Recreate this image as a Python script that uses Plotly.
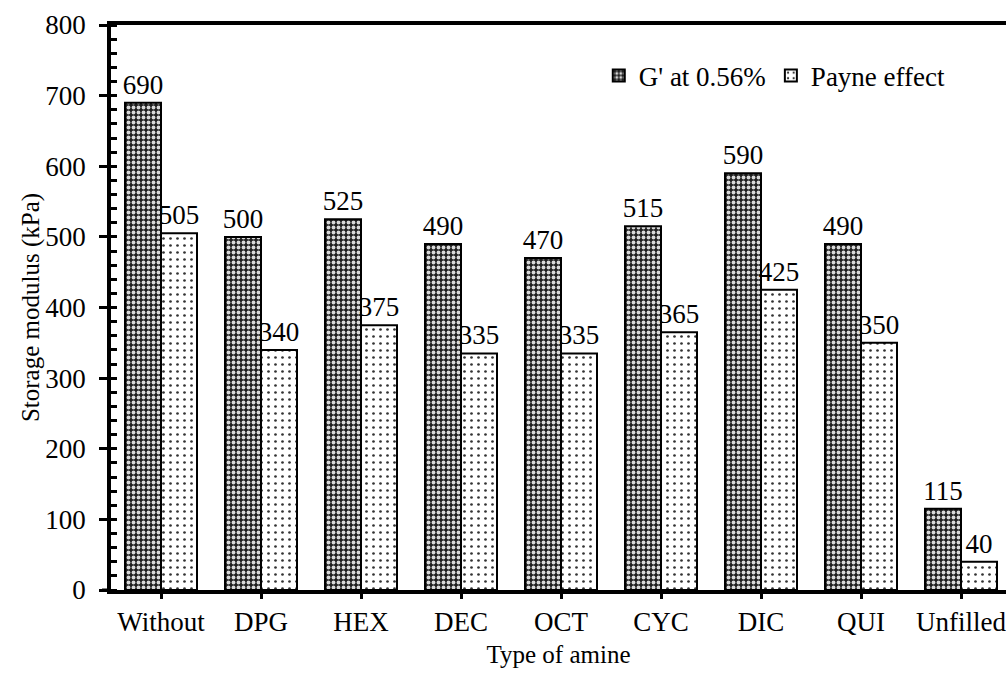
import plotly.graph_objects as go

categories = ["Without", "DPG", "HEX", "DEC", "OCT", "CYC", "DIC", "QUI", "Unfilled"]
g_prime = [690, 500, 525, 490, 470, 515, 590, 490, 115]
payne = [505, 340, 375, 335, 335, 365, 425, 350, 40]

FONT = "Liberation Serif"
FS = 27

fig = go.Figure()
fig.add_trace(go.Bar(
    x=categories, y=g_prime, name="G' at 0.56%",
    text=[str(v) for v in g_prime], textposition="outside", constraintext="none",
    textfont=dict(family=FONT, size=FS, color="black"),
    cliponaxis=False,
    marker=dict(color="#1e1e1e", line=dict(color="black", width=2),
                pattern=dict(shape=".", fgcolor="#d8d8d8", bgcolor="#1e1e1e",
                             size=5, solidity=0.45, fillmode="replace")),
))
fig.add_trace(go.Bar(
    x=categories, y=payne, name="Payne effect",
    text=[str(v) for v in payne], textposition="outside", constraintext="none",
    textfont=dict(family=FONT, size=FS, color="black"),
    cliponaxis=False,
    marker=dict(color="white", line=dict(color="black", width=2),
                pattern=dict(shape=".", fgcolor="#333333", bgcolor="white",
                             size=7, solidity=0.12, fillmode="replace")),
))

fig.update_layout(
    width=1006, height=674,
    margin=dict(l=111, r=0, t=25, b=84),
    paper_bgcolor="white", plot_bgcolor="white",
    barmode="group", bargap=0.28, bargroupgap=0.0,
    font=dict(family=FONT, size=FS, color="black"),
    legend=dict(orientation="h", x=0.545, y=0.91, xanchor="left", yanchor="middle",
                font=dict(family=FONT, size=FS), bgcolor="rgba(0,0,0,0)",
                itemwidth=30, tracegroupgap=0),
    showlegend=True,
    shapes=[dict(type="line", xref="paper", yref="y", x0=-0.01, x1=0, y0=0, y1=0,
                 line=dict(color="black", width=3))],
)
fig.update_xaxes(
    range=[-0.5, 8.45],
    showline=True, linecolor="black", linewidth=3.5, mirror=True,
    ticks="outside", ticklen=5, tickwidth=3, tickcolor="black",
    tickfont=dict(family=FONT, size=FS),
    title=dict(text="Type of amine", font=dict(family=FONT, size=25), standoff=10),
    showgrid=False,
)
fig.update_yaxes(
    range=[0, 800], dtick=100,
    showline=True, linecolor="black", linewidth=3.5, mirror=False,
    ticks="outside", ticklen=8, tickwidth=3, tickcolor="black", ticklabelstandoff=8,
    minor=dict(ticks="inside", ticklen=6, tickwidth=3, dtick=20, tickcolor="black", showgrid=False),
    tickfont=dict(family=FONT, size=FS),
    title=dict(text="Storage modulus (kPa)", font=dict(family=FONT, size=25), standoff=0),
    showgrid=False, zeroline=False,
)

fig.write_html("out.html", config={"displayModeBar": False},
               post_script="document.body.style.margin='0px';")
